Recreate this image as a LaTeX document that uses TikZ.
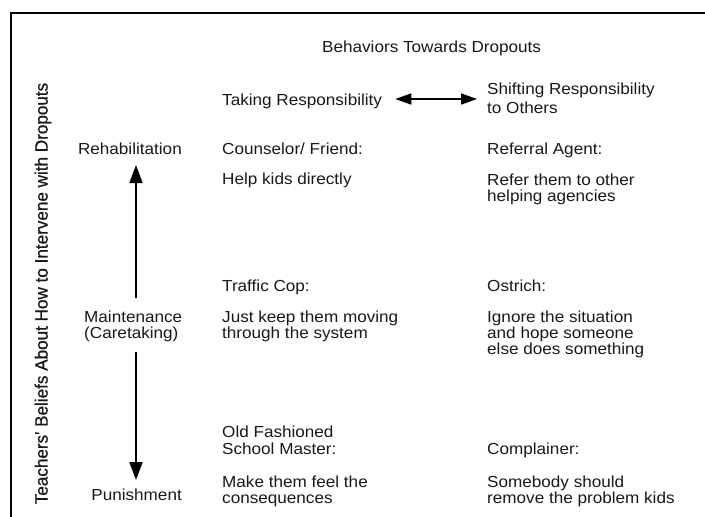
\documentclass[tikz,border=0pt]{standalone}
\usepackage{fontspec}
\setmainfont{Liberation Sans}[FakeStretch=1.07]
\newfontfamily\rotfont{Liberation Sans}[FakeStretch=0.95,FakeBold=0.6]
\usetikzlibrary{arrows.meta}
\definecolor{ink}{rgb}{0.1,0.1,0.1}
\begin{document}
\begin{tikzpicture}[x=1pt,y=-1pt,
  lbl/.style={inner sep=0pt, anchor=base west, font=\fontsize{16}{16}\selectfont, text=ink},
  lble/.style={lbl, anchor=base east},
  vaxis/.style={line width=2pt, draw=black, -{Triangle[length=18pt,width=13pt]}},
  haxis/.style={line width=1.6pt, draw=black, {Triangle[length=16pt,width=11pt]}-{Triangle[length=16pt,width=11pt]}}]
\useasboundingbox (0,0) rectangle (705,517);
\fill[white] (0,0) rectangle (705,517);
\draw[line width=1.8pt] (11,517) -- (11,13) -- (705,13);

\node[lbl] (title) at (322,52) {Behaviors Towards Dropouts};
\node[lbl] (taking) at (222,105) {Taking Responsibility};
\node[lbl] (shift1) at (487,94) {Shifting Responsibility};
\node[lbl] (shift2) at (487,113) {to Others};

\node[inner sep=0pt, rotate=90, font=\rotfont\fontsize{18}{18}\selectfont, text=ink] (axis) at (43,293.5) {Teachers' Beliefs About How to Intervene with Dropouts};

\node[lble] (rehab) at (182,154) {Rehabilitation};
\node[lbl] (maint1) at (84,322) {Maintenance};
\node[lbl] (maint2) at (84,338) {(Caretaking)};
\node[lble] (punish) at (182,500) {Punishment};

\node[lbl] (couns) at (222,154) {Counselor/ Friend:};
\node[lbl] (help) at (222,184) {Help kids directly};
\node[lbl] (refag) at (487,154) {Referral Agent:};
\node[lbl] (refer1) at (487,185) {Refer them to other};
\node[lbl] (refer2) at (487,201) {helping agencies};

\node[lbl] (cop) at (222,291) {Traffic Cop:};
\node[lbl] (keep1) at (222,322) {Just keep them moving};
\node[lbl] (keep2) at (222,338) {through the system};
\node[lbl] (ostr) at (487,291) {Ostrich:};
\node[lbl] (ign1) at (487,322) {Ignore the situation};
\node[lbl] (ign2) at (487,338) {and hope someone};
\node[lbl] (ign3) at (487,354) {else does something};

\node[lbl] (old1) at (222,437) {Old Fashioned};
\node[lbl] (old2) at (222,454) {School Master:};
\node[lbl] (compl) at (487,454) {Complainer:};
\node[lbl] (make1) at (222,487) {Make them feel the};
\node[lbl] (make2) at (222,503) {consequences};
\node[lbl] (some1) at (487,487) {Somebody should};
\node[lbl] (some2) at (487,503) {remove the problem kids};

\coordinate (upbot) at (136,298);
\coordinate (uptop) at (136,165);
\coordinate (dntop) at (136,352);
\coordinate (dnbot) at (136,480);
\draw[vaxis] (upbot) -- (uptop);
\draw[vaxis] (dntop) -- (dnbot);

\coordinate (hl) at ([xshift=13pt]taking.east |- 0,99);
\coordinate (hr) at ([xshift=-10pt]shift1.west |- 0,99);
\draw[haxis] (hl) -- (hr);
\end{tikzpicture}
\end{document}
